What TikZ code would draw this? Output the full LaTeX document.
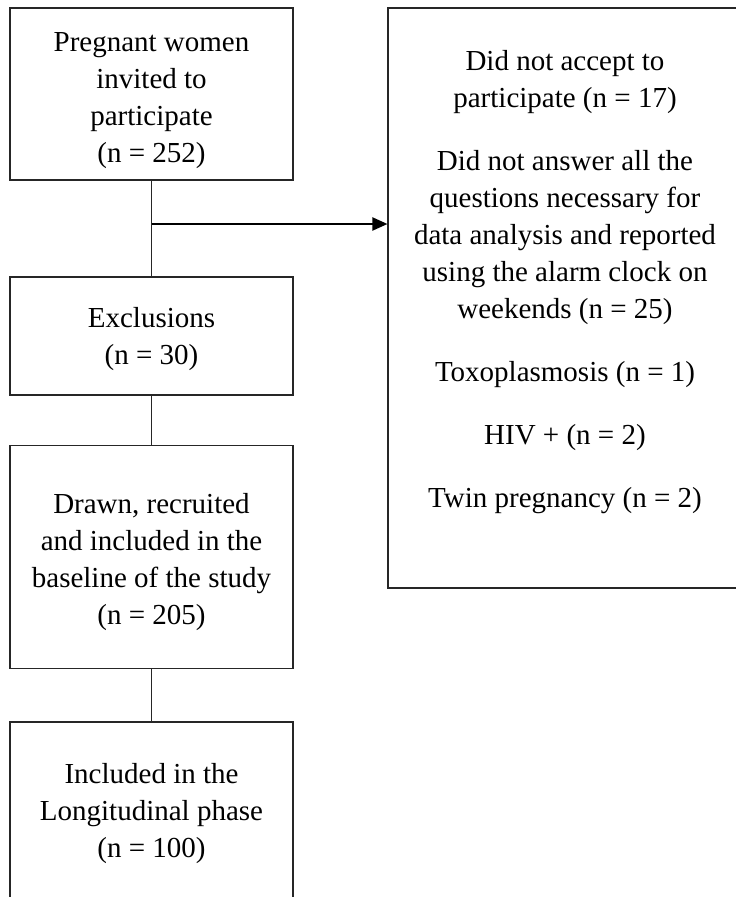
\documentclass[tikz,border=0pt]{standalone}
\usepackage{fontspec}
\setmainfont{Liberation Serif}
\usetikzlibrary{arrows.meta,positioning}
\tikzset{
  box/.style={draw=black!85, line width=1.1pt, rectangle, inner sep=0pt},
  txt/.style={align=center, inner sep=0pt, font=\fontsize{29}{37}\selectfont, text=black},
  link/.style={draw=black!85, line width=1.1pt},
  arrowline/.style={draw=black, line width=2pt, -{Triangle[length=15pt,width=13pt]}},
}
\begin{document}
\begin{tikzpicture}[x=1pt,y=-1pt]
\clip (0,0) rectangle (736,897);
\fill[white] (0,0) rectangle (736,897);
% left column boxes
\node[box, minimum width=283pt, minimum height=172pt] (b1) at (151.5,94) {};
\node[txt] (t1) at (151.5,101) {Pregnant women\\invited to\\participate\\(n = 252)};
\node[box, minimum width=283pt, minimum height=118pt] (b2) at (151.5,336) {};
\node[txt] (t2) at (151.5,339) {Exclusions\\(n = 30)};
\node[box, minimum width=283pt, minimum height=223pt] (b3) at (151.5,557) {};
\node[txt] (t3) at (151.5,562) {Drawn, recruited\\and included in the\\baseline of the study\\(n = 205)};
\node[box, minimum width=283pt, minimum height=178pt] (b4) at (151.5,811) {};
\node[txt] (t4) at (151.5,814) {Included in the\\Longitudinal phase\\(n = 100)};
% right box
\node[box, minimum width=354pt, minimum height=580pt] (rb) at (565,298) {};
\node[txt, anchor=north] (rt) at (565,50)
  {Did not accept to\\participate (n = 17)\\[26pt]
   Did not answer all the\\questions necessary for\\data analysis and reported\\using the alarm clock on\\weekends (n = 25)\\[26pt]
   Toxoplasmosis (n = 1)\\[26pt]
   HIV + (n = 2)\\[26pt]
   Twin pregnancy (n = 2)};
% connectors
\draw[link] (b1.south) -- (b2.north);
\draw[link] (b2.south) -- (b3.north);
\draw[link] (b3.south) -- (b4.north);
\coordinate (br) at (151.5,224);
\draw[arrowline] (br) -- (br -| rb.west);
\end{tikzpicture}
\end{document}
